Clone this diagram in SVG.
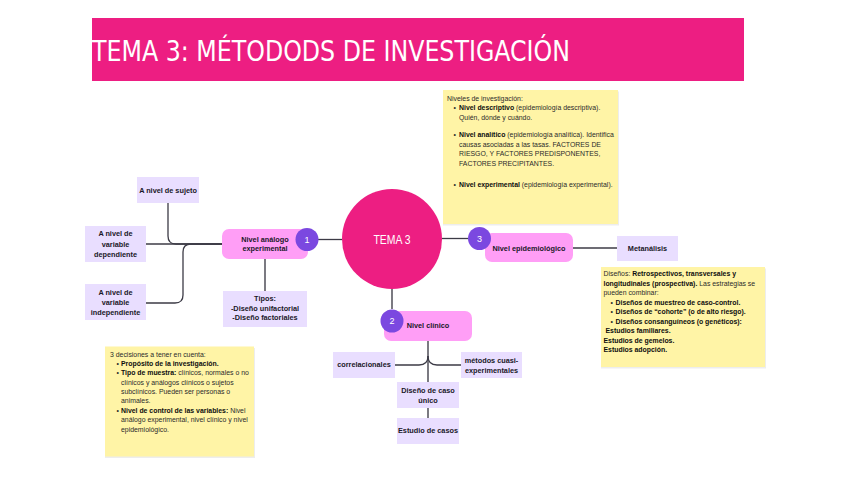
<svg xmlns="http://www.w3.org/2000/svg" width="848" height="477" viewBox="0 0 848 477">
<style>
.lbl{font-family:"Liberation Sans",Arial,sans-serif;font-size:7.3px;font-weight:bold;fill:#1a1828;text-anchor:middle}
.note{font-family:"Liberation Sans",Arial,sans-serif;font-size:6.9px;fill:#2b2b2b}
.b{font-weight:bold;fill:#0e0e0e}
.lav{fill:#e9deff}
.pnk{fill:#ff9ef6}
.yel{fill:#fff4a6}
.shd{fill:#000;opacity:0.07}
.badge{fill:#7b48e0}
.bnum{font-family:"Liberation Sans",Arial,sans-serif;font-size:9px;fill:#fff;text-anchor:middle}
.con{fill:none;stroke:#3c3b46;stroke-width:1.3}
</style>
<rect width="848" height="477" fill="#ffffff"/>

<g id="title">
<rect x="92" y="18" width="652" height="63" fill="#ed1e82"/>
<text x="92" y="60.5" font-family="'Liberation Sans Narrow','DejaVu Sans Condensed','Liberation Sans',sans-serif" font-size="28" fill="#ffffff" textLength="478" lengthAdjust="spacingAndGlyphs">TEMA 3: MÉTODODS DE INVESTIGACIÓN</text>
</g>

<g id="connectors">
<path class="con" d="M146,244 H222"/>
<path class="con" d="M168,203 V236 Q168,244 176,244 H222"/>
<path class="con" d="M146,303 H175 Q183,303 183,295 V252 Q183,244 191,244 H222"/>
<path class="con" d="M265,259 V291" style="stroke:#5a5962;stroke-width:1.6"/>
<path class="con" d="M318,239.5 H342"/>
<path class="con" d="M442,238.5 H468"/>
<path class="con" d="M392,289 V309" style="stroke:#5a5962;stroke-width:1.6"/>
<path class="con" d="M573,248 H617"/>
<path class="con" d="M428,341 V382" style="stroke:#5a5962;stroke-width:1.6"/>
<path class="con" d="M395,365 H419 Q428,365 428,356"/>
<path class="con" d="M461,365 H437 Q428,365 428,356"/>
<path class="con" d="M428,408 V418" style="stroke:#5a5962;stroke-width:1.6"/>
</g>

<g id="center">
<circle cx="392" cy="239" r="50" fill="#ed1e82"/>
<text x="392" y="244" font-family="'Liberation Sans',sans-serif" font-size="12" fill="#ffffff" text-anchor="middle" textLength="37" lengthAdjust="spacingAndGlyphs">TEMA 3</text>
</g>

<g id="node-analogo">
<rect class="pnk" x="222" y="229" width="86" height="30" rx="7"/>
<text class="lbl" x="265" y="241.6">Nivel análogo</text>
<text class="lbl" x="265" y="251">experimental</text>
<circle class="badge" cx="307" cy="239.5" r="11.5"/>
<text class="bnum" x="307" y="242.8">1</text>
</g>

<g id="node-clinico">
<rect class="pnk" x="384" y="311" width="88" height="30" rx="7"/>
<text class="lbl" x="428" y="328.4">Nivel clínico</text>
<circle class="badge" cx="392" cy="321" r="11.5"/>
<text class="bnum" x="392" y="324.3">2</text>
</g>

<g id="node-epidemio">
<rect class="pnk" x="485" y="233" width="88" height="29" rx="7"/>
<text class="lbl" x="529" y="250.5">Nivel epidemiológico</text>
<circle class="badge" cx="479.5" cy="238.5" r="11.5"/>
<text class="bnum" x="479.5" y="241.8">3</text>
</g>

<g id="sujeto">
<rect class="lav" x="137" y="177" width="62" height="26"/>
<text class="lbl" x="168" y="192.6">A nivel de sujeto</text>
</g>
<g id="dependiente">
<rect class="lav" x="85" y="226" width="61" height="36"/>
<text class="lbl" x="115.5" y="236">A nivel de</text>
<text class="lbl" x="115.5" y="246.6">variable</text>
<text class="lbl" x="115.5" y="256.6">dependiente</text>
</g>
<g id="independiente">
<rect class="lav" x="85" y="284" width="61" height="36"/>
<text class="lbl" x="115.5" y="294.6">A nivel de</text>
<text class="lbl" x="115.5" y="304.9">variable</text>
<text class="lbl" x="115.5" y="314.6">independiente</text>
</g>
<g id="tipos">
<rect class="lav" x="223" y="291" width="84" height="36"/>
<text class="lbl" x="265" y="300.9">Tipos:</text>
<text class="lbl" x="265" y="310.6">-Diseño unifactorial</text>
<text class="lbl" x="265" y="320.3">-Diseño factoriales</text>
</g>
<g id="metanalisis">
<rect class="lav" x="617" y="236" width="61" height="25"/>
<text class="lbl" x="647.5" y="251">Metanálisis</text>
</g>
<g id="correlacionales">
<rect class="lav" x="333" y="352" width="62" height="26"/>
<text class="lbl" x="364" y="367">correlacionales</text>
</g>
<g id="cuasi">
<rect class="lav" x="461" y="352" width="61" height="26"/>
<text class="lbl" x="491.5" y="362.6">métodos cuasi-</text>
<text class="lbl" x="491.5" y="372.6">experimentales</text>
</g>
<g id="caso-unico">
<rect class="lav" x="397" y="382" width="62" height="26"/>
<text class="lbl" x="428" y="393">Diseño de caso</text>
<text class="lbl" x="428" y="402.8">único</text>
</g>
<g id="estudio-casos">
<rect class="lav" x="397" y="418" width="62" height="26"/>
<text class="lbl" x="428" y="433.4">Estudio de casos</text>
</g>

<g id="note-niveles">
<rect class="shd" x="443" y="91.5" width="176" height="134"/>
<rect class="yel" x="443" y="90" width="175" height="134"/>
<text class="note" x="447" y="100.5">Niveles de investigación:</text>
<text class="note" x="453.5" y="110">•</text>
<text class="note" x="459" y="110"><tspan class="b">Nivel descriptivo</tspan> (epidemiología descriptiva).</text>
<text class="note" x="459" y="119.5">Quién, dónde y cuándo.</text>
<text class="note" x="453.5" y="137">•</text>
<text class="note" x="459" y="137"><tspan class="b">Nivel analítico</tspan> (epidemiología analítica). Identifica</text>
<text class="note" x="459" y="146.5">causas asociadas a las tasas. FACTORES DE</text>
<text class="note" x="459" y="156">RIESGO, Y FACTORES PREDISPONENTES,</text>
<text class="note" x="459" y="165.5">FACTORES PRECIPITANTES.</text>
<text class="note" x="453.5" y="186.5">•</text>
<text class="note" x="459" y="186.5"><tspan class="b">Nivel experimental</tspan> (epidemiología experimental).</text>
</g>

<g id="note-disenos">
<rect class="shd" x="601" y="268.5" width="165" height="100"/>
<rect class="yel" x="601" y="267" width="164" height="100"/>
<text class="note" x="603.5" y="276"><tspan>Diseños: </tspan><tspan class="b">Retrospectivos, transversales y</tspan></text>
<text class="note" x="603.5" y="285.5"><tspan class="b">longitudinales (prospectiva).</tspan> Las estrategias se</text>
<text class="note" x="603.5" y="295">pueden combinar:</text>
<text class="note" x="610.5" y="304.5">•</text>
<text class="note b" x="615.5" y="304.5">Diseños de muestreo de caso-control.</text>
<text class="note" x="610.5" y="314">•</text>
<text class="note b" x="615.5" y="314">Diseños de “cohorte” (o de alto riesgo).</text>
<text class="note" x="610.5" y="323.5">•</text>
<text class="note b" x="615.5" y="323.5">Diseños consanguíneos (o genéticos):</text>
<text class="note b" x="605.5" y="333">Estudios familiares.</text>
<text class="note b" x="603.5" y="342.5">Estudios de gemelos.</text>
<text class="note b" x="603.5" y="352">Estudios adopción.</text>
</g>

<g id="note-decisiones">
<rect class="shd" x="105" y="348" width="150" height="110"/>
<rect class="yel" x="105" y="346.5" width="149" height="110"/>
<text class="note" x="110" y="356.5">3 decisiones a tener en cuenta:</text>
<text class="note" x="116.5" y="366">•</text>
<text class="note b" x="121" y="366">Propósito de la investigación.</text>
<text class="note" x="116.5" y="375">•</text>
<text class="note" x="121" y="375"><tspan class="b">Tipo de muestra:</tspan> clínicos, normales o no</text>
<text class="note" x="121" y="384.5">clínicos y análogos clínicos o sujetos</text>
<text class="note" x="121" y="393.5">subclínicos. Pueden ser personas o</text>
<text class="note" x="121" y="403">animales.</text>
<text class="note" x="116.5" y="412.5">•</text>
<text class="note" x="121" y="412.5"><tspan class="b">Nivel de control de las variables:</tspan> Nivel</text>
<text class="note" x="121" y="422">análogo experimental, nivel clínico y nivel</text>
<text class="note" x="121" y="431.5">epidemiológico.</text>
</g>
</svg>
